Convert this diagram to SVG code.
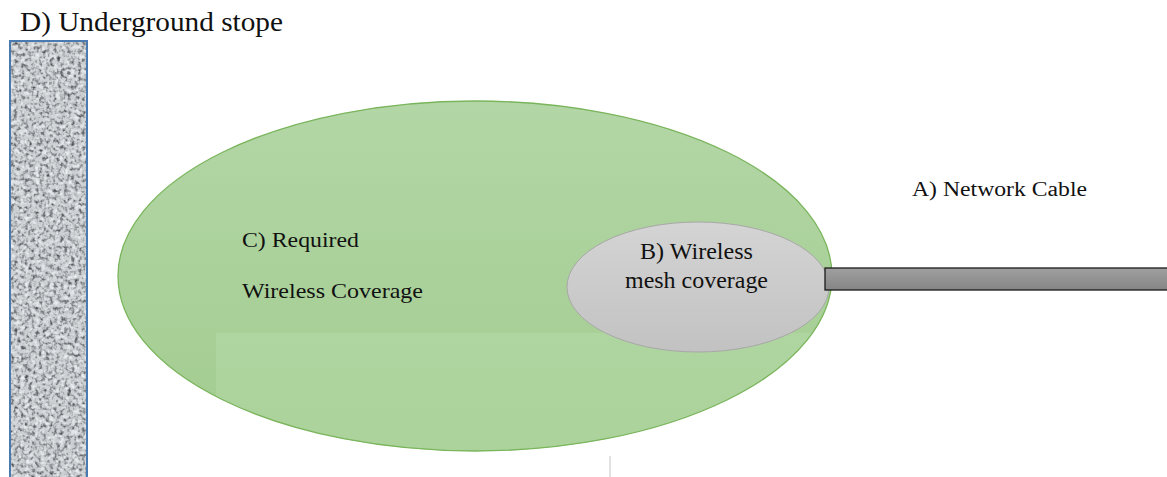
<svg xmlns="http://www.w3.org/2000/svg" width="1167" height="477" viewBox="0 0 1167 477">
  <defs>
    <style>
      text { font-family: "Liberation Serif", "Times New Roman", "DejaVu Serif", serif; fill: #111111; }
    </style>
    <!-- speckled rock texture for the stope wall -->
    <filter id="rock" x="0" y="0" width="100%" height="100%" color-interpolation-filters="sRGB">
      <feFlood flood-color="#cdd0d3" result="base"/>
      <feTurbulence type="fractalNoise" baseFrequency="0.28" numOctaves="2" seed="3" result="n2"/>
      <feColorMatrix in="n2" type="matrix" values="0 0 0 0 0.30  0 0 0 0 0.31  0 0 0 0 0.33  -2.6 0 0 0 1.45" result="dark"/>
      <feTurbulence type="fractalNoise" baseFrequency="0.2" numOctaves="2" seed="11" result="n3"/>
      <feColorMatrix in="n3" type="matrix" values="0 0 0 0 0.95  0 0 0 0 0.96  0 0 0 0 0.97  2.4 0 0 0 -1.1" result="light"/>
      <feMerge result="m">
        <feMergeNode in="base"/>
        <feMergeNode in="dark"/>
        <feMergeNode in="light"/>
      </feMerge>
      <feGaussianBlur in="m" stdDeviation="0.6" result="soft"/>
      <feComposite in="soft" in2="SourceGraphic" operator="in"/>
    </filter>
    <linearGradient id="greenFill" x1="0" y1="0" x2="0" y2="1">
      <stop offset="0" stop-color="#b3d6a6"/>
      <stop offset="1" stop-color="#a2cc8f"/>
    </linearGradient>
    <linearGradient id="grayFill" x1="0" y1="0" x2="0" y2="1">
      <stop offset="0" stop-color="#d4d4d4"/>
      <stop offset="1" stop-color="#c2c2c2"/>
    </linearGradient>
    <linearGradient id="cableFill" x1="0" y1="0" x2="0" y2="1">
      <stop offset="0" stop-color="#a0a0a0"/>
      <stop offset="1" stop-color="#858585"/>
    </linearGradient>
    <clipPath id="bigClip">
      <ellipse cx="475" cy="276" rx="357" ry="175"/>
    </clipPath>
  </defs>

  <rect width="1167" height="477" fill="#ffffff"/>

  <!-- D) stope wall -->
  <g id="stope">
    <rect x="10" y="41" width="77" height="440" fill="#bdbdbd" filter="url(#rock)"/>
    <rect x="10" y="41" width="77" height="440" fill="none" stroke="#4a7bb0" stroke-width="2"/>
    <text x="20" y="31" font-size="27" textLength="263" lengthAdjust="spacingAndGlyphs">D) Underground stope</text>
  </g>

  <!-- C) required coverage area -->
  <g id="required-coverage">
    <ellipse cx="475" cy="276" rx="357" ry="175" fill="url(#greenFill)"/>
    <rect x="216" y="333" width="620" height="130" fill="#b8dcab" opacity="0.45" clip-path="url(#bigClip)"/>
    <ellipse cx="475" cy="276" rx="357" ry="175" fill="none" stroke="#7ab55c" stroke-width="1.3"/>
    <text x="242" y="247" font-size="22" textLength="117" lengthAdjust="spacingAndGlyphs">C) Required</text>
    <text x="242" y="298" font-size="22" textLength="181" lengthAdjust="spacingAndGlyphs">Wireless Coverage</text>
  </g>

  <!-- B) mesh coverage -->
  <g id="mesh-coverage">
    <ellipse cx="698" cy="287" rx="131" ry="65" fill="url(#grayFill)" stroke="#a8a8a8" stroke-width="1"/>
    <text x="640" y="259" font-size="23" textLength="113" lengthAdjust="spacingAndGlyphs">B) Wireless</text>
    <text x="625" y="288" font-size="23" textLength="143" lengthAdjust="spacingAndGlyphs">mesh coverage</text>
  </g>

  <!-- A) network cable -->
  <g id="network-cable">
    <rect x="825" y="268" width="345" height="22" fill="url(#cableFill)" stroke="#1a1a1a" stroke-width="1.3"/>
    <text x="912" y="196" font-size="20" textLength="175" lengthAdjust="spacingAndGlyphs">A) Network Cable</text>
  </g>

  <g id="connectors"/>

  <line x1="610" y1="456" x2="610" y2="477" stroke="#d8d8d8" stroke-width="1.5"/>
</svg>
